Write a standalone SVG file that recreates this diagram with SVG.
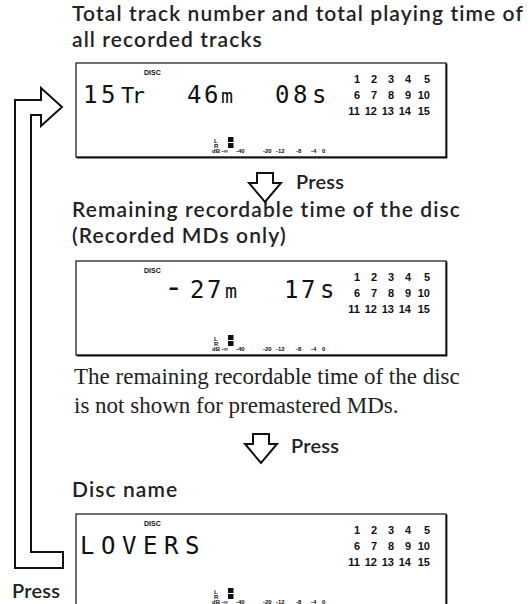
<svg xmlns="http://www.w3.org/2000/svg" xmlns:xlink="http://www.w3.org/1999/xlink" width="532" height="604" viewBox="0 0 532 604">
<style>
.hd{font-family:"Lato","Open Sans",sans-serif;font-weight:600;font-size:21px;letter-spacing:1.1px;fill:#222}
.pr{font-family:"Lato","Open Sans",sans-serif;font-weight:600;font-size:20px;letter-spacing:0.2px;fill:#222}
.note{font-family:"Liberation Serif",serif;font-size:23px;fill:#222}
.box{fill:#fff;stroke:#111;stroke-width:1.2}
.shd{fill:none;stroke:#111;stroke-width:1.6}
.seg{font-family:"DejaVu Sans Mono",monospace;font-size:24px;fill:#111}
.disc{font-family:"Liberation Sans",sans-serif;font-weight:700;font-size:7px;fill:#111}
.num{font-family:"Liberation Sans",sans-serif;font-weight:700;font-size:11px;fill:#111;text-anchor:end}
.mt{font-family:"Liberation Sans",sans-serif;font-weight:700;font-size:6px;fill:#111}
.arw{fill:#fff;stroke:#111;stroke-width:2;stroke-linejoin:miter}
</style>
<defs>
<g id="panel">
<rect class="box" x="0" y="0" width="370" height="94"/>
<path class="shd" d="M370.6,0.6 V94.6 H0.6"/>
<text class="disc" x="68" y="12">DISC</text>
<text class="num" x="284" y="20">1</text><text class="num" x="301" y="20">2</text><text class="num" x="318" y="20">3</text><text class="num" x="335" y="20">4</text><text class="num" x="354" y="20">5</text>
<text class="num" x="284" y="36">6</text><text class="num" x="301" y="36">7</text><text class="num" x="318" y="36">8</text><text class="num" x="335" y="36">9</text><text class="num" x="354" y="36">10</text>
<text class="num" x="284" y="52">11</text><text class="num" x="301" y="52">12</text><text class="num" x="318" y="52">13</text><text class="num" x="335" y="52">14</text><text class="num" x="354" y="52">15</text>
<text class="mt" x="138" y="79.5">L</text>
<text class="mt" x="138" y="84.5">R</text>
<rect x="152" y="74" width="5.5" height="5" fill="#111"/>
<rect x="152" y="80" width="5.5" height="5" fill="#111"/>
<text class="mt" x="136" y="89.5">dB</text>
<text class="mt" x="145.5" y="89.5">-∞</text>
<text class="mt" x="160" y="89.5">-40</text>
<text class="mt" x="187" y="89.5">-20</text>
<text class="mt" x="200" y="89.5">-12</text>
<text class="mt" x="220" y="89.5">-8</text>
<text class="mt" x="235" y="89.5">-4</text>
<text class="mt" x="246" y="89.5">0</text>
</g>
</defs>

<g id="node-total">
<text class="hd"><tspan x="72" y="21">Total track number and total playing time of</tspan><tspan x="72" y="47">all recorded tracks</tspan></text>
<use xlink:href="#panel" x="76" y="63"/>
<text class="seg" y="103"><tspan x="83" letter-spacing="3.5">15</tspan><tspan x="121" font-size="22" letter-spacing="-2.5">Tr</tspan></text>
<text class="seg" y="103"><tspan x="187">4</tspan><tspan x="204">6</tspan><tspan x="221" font-size="20">m</tspan></text>
<text class="seg" y="103"><tspan x="275">0</tspan><tspan x="293">8</tspan><tspan x="312">s</tspan></text>
</g>

<g id="node-remaining">
<text class="hd"><tspan x="72" y="217">Remaining recordable time of the disc</tspan><tspan x="72" y="243">(Recorded MDs only)</tspan></text>
<use xlink:href="#panel" x="76" y="261"/>
<text class="seg" y="298"><tspan x="164" font-size="32">-</tspan><tspan x="190">2</tspan><tspan x="207">7</tspan><tspan x="225" font-size="20">m</tspan></text>
<text class="seg" y="298"><tspan x="284">1</tspan><tspan x="301">7</tspan><tspan x="320">s</tspan></text>
<text class="note"><tspan x="74" y="384">The remaining recordable time of the disc</tspan><tspan x="74" y="413">is not shown for premastered MDs.</tspan></text>
</g>

<g id="node-discname">
<text class="hd" x="72" y="497" letter-spacing="0.4">Disc name</text>
<use xlink:href="#panel" x="76" y="514"/>
<text class="seg" y="554"><tspan x="80">L</tspan><tspan x="101">O</tspan><tspan x="122">V</tspan><tspan x="143">E</tspan><tspan x="164">R</tspan><tspan x="185">S</tspan></text>
</g>

<g id="connectors">
<path class="arw" d="M257,173 H273 V183 H281 L265,202 L249,183 H257 Z"/>
<text class="pr" x="296" y="189">Press</text>
<path class="arw" d="M253,434 H269 V444 H277 L261,463 L245,444 H253 Z"/>
<text class="pr" x="291" y="453">Press</text>
<path class="arw" stroke-width="2.2" d="M15,568 V100 H41 V88 L62,107 L41,126 V115 H31 V552 H63 V568 Z"/>
<text class="pr" x="12" y="598">Press</text>
</g>
</svg>
